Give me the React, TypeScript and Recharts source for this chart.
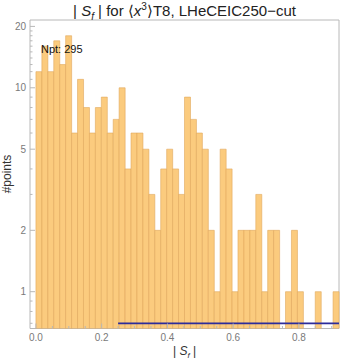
import {
    ComposedChart,
    Bar,
    XAxis,
    YAxis,
    ReferenceLine,
    ReferenceArea,
} from 'recharts'

// histogram of |S_f|, bin start = index * binWidth
const binWidth = 0.01808
const counts = [
    12, 16, 12, 17, 13, 18, 6, 11, 8, 6, 8, 9, 6, 7, 10, 4, 6, 6, 5, 3, 2, 4, 5,
    4, 3, 9, 7, 6, 5, 2, 1, 5, 4, 1, 2, 2, 2, 3, 1, 2, 2, 0, 1, 2, 1, 0, 0, 1, 0,
    0, 1,
]
const xTicks = [0, 0.05, 0.1, 0.15, 0.2, 0.25, 0.3, 0.35, 0.4, 0.45, 0.5, 0.55, 0.6, 0.65, 0.7, 0.75, 0.8, 0.85, 0.9]
const xMajor = [0, 0.2, 0.4, 0.6, 0.8]
const yTicks = [0.7, 0.8, 0.9, 1, 2, 3, 4, 5, 6, 7, 8, 9, 10, 11, 12, 13, 14, 15, 16, 17, 18, 19, 20]
const yMajor = [1, 2, 5, 10, 20]
const yDomain = [0.66, 21.5]
const xDomain = [-binWidth, counts.length * binWidth]
const bandLine = { from: 0.25, to: counts.length * binWidth, level: 0.7 }
const npt = 295

// one empty category in front = Mathematica's plot padding
const data = [
    { bin: 'pad', x: -binWidth / 2, count: null as number | null },
    ...counts.map((c, i) => ({
        bin: (i * binWidth).toFixed(4),
        x: (i + 0.5) * binWidth,
        count: c > 0 ? c : null,
    })),
]

const font = '"Liberation Sans", Arial, sans-serif'
const tickColor = '#7a7a7a'
const frameColor = '#b8b8b8'

const LeftTick = (props: any) => {
    const { x, y, payload } = props
    const major = yMajor.includes(payload.value)
    return (
        <g>
            <line x1={x + 4} x2={x + 4 + (major ? 5 : 2.5)} y1={y} y2={y} stroke={frameColor} />
            {major && (
                <text x={x} y={y} dy={3.5} textAnchor="end" fontSize={10} fill={tickColor} fontFamily={font}>
                    {payload.value}
                </text>
            )}
        </g>
    )
}

const RightTick = (props: any) => {
    const { x, y, payload } = props
    const major = yMajor.includes(payload.value)
    return <line x1={x} x2={x - (major ? 5 : 2.5)} y1={y} y2={y} stroke={frameColor} />
}

const BottomTick = (props: any) => {
    const { x, y, payload } = props
    const major = xMajor.some((m) => Math.abs(m - payload.value) < 1e-9)
    return (
        <g>
            <line x1={x} x2={x} y1={y} y2={y - (major ? 5 : 2.5)} stroke={frameColor} />
            {major && (
                <text x={x} y={y} dy={12} textAnchor="middle" fontSize={10} fill={tickColor} fontFamily={font}>
                    {payload.value.toFixed(1)}
                </text>
            )}
        </g>
    )
}

export default function App() {
    return (
        <div style={{ position: 'absolute', left: 0, top: 0, width: 342, height: 360, background: '#fff', fontFamily: font }}>
            <ComposedChart
                width={342}
                height={360}
                data={data}
                margin={{ top: 20, right: 3, left: 0, bottom: 11.5 }}
                barCategoryGap={0}
                barGap={0}
            >
                <XAxis xAxisId="cat" dataKey="bin" type="category" hide height={0} />
                <XAxis
                    xAxisId="num"
                    dataKey="x"
                    type="number"
                    domain={xDomain}
                    allowDataOverflow
                    ticks={xTicks}
                    interval={0}
                    height={20}
                    tickSize={0}
                    tickMargin={0}
                    axisLine={false}
                    tick={<BottomTick />}
                />
                <YAxis
                    yAxisId="l"
                    scale="log"
                    domain={yDomain}
                    allowDataOverflow
                    ticks={yTicks}
                    interval={0}
                    width={30}
                    tickSize={0}
                    tickMargin={4}
                    axisLine={false}
                    tick={<LeftTick />}
                />
                <YAxis
                    yAxisId="r"
                    orientation="right"
                    scale="log"
                    domain={yDomain}
                    allowDataOverflow
                    ticks={yTicks}
                    interval={0}
                    width={0}
                    tickSize={0}
                    tickMargin={0}
                    axisLine={false}
                    tick={<RightTick />}
                />
                <Bar
                    xAxisId="cat"
                    yAxisId="l"
                    dataKey="count"
                    fill="#fbcb7e"
                    stroke="#e0a85c"
                    strokeWidth={0.6}
                    isAnimationActive={false}
                />
                <ReferenceLine
                    xAxisId="num"
                    yAxisId="l"
                    segment={[
                        { x: bandLine.from, y: bandLine.level },
                        { x: bandLine.to, y: bandLine.level },
                    ]}
                    stroke="#2c2c9c"
                    strokeWidth={1.8}
                />
                <ReferenceArea
                    xAxisId="num"
                    yAxisId="l"
                    x1={xDomain[0]}
                    x2={xDomain[1]}
                    y1={yDomain[0]}
                    y2={yDomain[1]}
                    fill="none"
                    fillOpacity={0}
                    stroke={frameColor}
                    strokeWidth={1}
                />
            </ComposedChart>
            <div style={{ position: 'absolute', left: 30, width: 309, top: 1, textAlign: 'center', fontSize: 15, color: '#222', whiteSpace: 'nowrap' }}>
                | <i>S</i><sub style={{ fontSize: 10 }}><i>f</i></sub> | for ⟨<i>x</i><sup style={{ fontSize: 10 }}>3</sup>⟩T8, LHeCEIC250−cut
            </div>
            <div style={{ position: 'absolute', left: 41, top: 43, fontSize: 11, color: '#111' }}>Npt: {npt}</div>
            <div
                style={{
                    position: 'absolute',
                    left: 6.5,
                    top: 174,
                    fontSize: 12,
                    color: '#333',
                    whiteSpace: 'nowrap',
                    transform: 'translate(-50%, -50%) rotate(-90deg)',
                }}
            >
                #points
            </div>
            <div style={{ position: 'absolute', left: 30, width: 309, top: 344, textAlign: 'center', fontSize: 12, color: '#333' }}>
                | <i>S</i><sub style={{ fontSize: 8 }}><i>f</i></sub> |
            </div>
        </div>
    )
}
